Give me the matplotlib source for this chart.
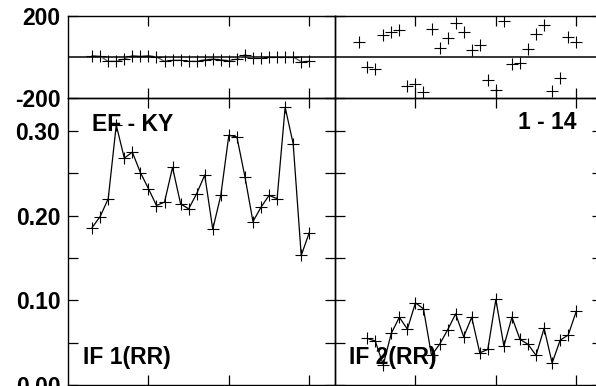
import matplotlib
matplotlib.use("Agg")
import matplotlib.pyplot as plt
from matplotlib.ticker import FixedLocator, NullFormatter

plt.rcParams['font.family'] = ['Liberation Sans', 'DejaVu Sans']
plt.rcParams['font.weight'] = 'bold'

# ---- data ----
x_left = list(range(3, 31))
phase_left = [7, 3, -21, -21, -10, 7, 3, 7, 0, -21, -16, -16, -21, -21, -13, -10,
              -13, -18, -10, 11, -5, -5, -2, 0, 0, 0, -23, -21]
amp_left = [0.186, 0.199, 0.220, 0.307, 0.268, 0.275, 0.251, 0.232, 0.212, 0.216,
            0.257, 0.214, 0.208, 0.226, 0.248, 0.184, 0.224, 0.295, 0.293, 0.246,
            0.193, 0.210, 0.224, 0.220, 0.328, 0.285, 0.153, 0.180]

x_right_phase = list(range(3, 31))
phase_right = [75, -48, -57, 107, 123, 133, -143, -130, -172, 136, 46, 95, 166, 120,
               34, 57, -110, -159, 177, -36, -28, 38, 112, 156, -167, -102, 100, 75]
x_right_amp = list(range(4, 31))
amp_right = [0.055, 0.052, 0.024, 0.061, 0.080, 0.066, 0.097, 0.090, 0.035, 0.048,
             0.065, 0.084, 0.057, 0.080, 0.038, 0.042, 0.101, 0.046, 0.080, 0.054,
             0.048, 0.035, 0.067, 0.026, 0.053, 0.059, 0.087]

phase_ticks = [-200, 200]
phase_ticklabels = ["-200", "200"]
amp_ticks = [0.0, 0.1, 0.2, 0.3]
amp_ticklabels = ["0.00", "0.10", "0.20", "0.30"]
amp_minor = [0.05, 0.15, 0.25]
x_ticks = [10, 20, 30]

label_baseline = "EF - KY"
label_range = "1 - 14"
label_if1 = "IF 1(RR)"
label_if2 = "IF 2(RR)"

# ---- layout ----
W, H = 596, 386
fig = plt.figure(figsize=(W / 100, H / 100), dpi=100)

def fx(px):
    return px / W

def fy(py):
    return 1 - py / H

x0l, x0r, pw = 68, 335, 267
top_t, top_b = 16, 98
bot_b = 385

ax_tl = fig.add_axes([fx(x0l), fy(top_b), pw / W, (top_b - top_t) / H])
ax_tr = fig.add_axes([fx(x0r), fy(top_b), pw / W, (top_b - top_t) / H])
ax_bl = fig.add_axes([fx(x0l), fy(bot_b), pw / W, (bot_b - top_b) / H])
ax_br = fig.add_axes([fx(x0r), fy(bot_b), pw / W, (bot_b - top_b) / H])

FS = 16.5
mk = dict(marker='+', markersize=9, markeredgewidth=0.8, color='black')

for ax in (ax_tl, ax_tr, ax_bl, ax_br):
    ax.set_xlim(0, 33.2)
    ax.xaxis.set_major_locator(FixedLocator(x_ticks))
    ax.xaxis.set_major_formatter(NullFormatter())
    ax.tick_params(axis='both', which='both', direction='in', length=7, width=0.9,
                   top=True, bottom=True, left=True, right=True,
                   labelsize=FS, pad=5.5, color='black')
    for s in ax.spines.values():
        s.set_linewidth(1.0)
        s.set_color('black')
    ax.set_facecolor('none')

# top panels (phase)
for ax in (ax_tl, ax_tr):
    ax.set_ylim(-200, 200)
    ax.yaxis.set_major_locator(FixedLocator(phase_ticks))
    ax.axhline(0, color='black', lw=1.1, zorder=1)
ax_tl.set_yticklabels(phase_ticklabels, fontweight='bold')
ax_tr.yaxis.set_major_formatter(NullFormatter())

ax_tl.plot(x_left, phase_left, '-', color='#555555', lw=0.9, zorder=2)
ax_tl.plot(x_left, phase_left, linestyle='none', zorder=3, **mk)
ax_tr.plot(x_right_phase, phase_right, linestyle='none', zorder=3, **mk)

# bottom panels (amplitude)
for ax in (ax_bl, ax_br):
    ax.set_ylim(0, 0.339)
    ax.yaxis.set_major_locator(FixedLocator(amp_ticks))
    ax.yaxis.set_minor_locator(FixedLocator(amp_minor))
ax_bl.set_yticklabels(amp_ticklabels, fontweight='bold')
ax_br.yaxis.set_major_formatter(NullFormatter())

ax_bl.plot(x_left, amp_left, '-', color='black', lw=0.9, marker='+',
           markersize=9, markeredgewidth=0.8)
ax_br.plot(x_right_amp, amp_right, '-', color='black', lw=0.9, marker='+',
           markersize=9, markeredgewidth=0.8)

def axpos(ax, px, py, x0):
    # convert pixel coords to axes fraction for bottom panels
    return (px - x0) / pw, (bot_b - py) / (bot_b - top_b)

ax_bl.text(*axpos(ax_bl, 92, 131, x0l), label_baseline, fontsize=FS, fontweight='bold',
           ha='left', va='baseline', transform=ax_bl.transAxes, zorder=5)
ax_br.text(*axpos(ax_br, 518, 129, x0r), label_range, fontsize=FS, fontweight='bold',
           ha='left', va='baseline', transform=ax_br.transAxes, zorder=5)
ax_bl.text(*axpos(ax_bl, 83, 364, x0l), label_if1, fontsize=FS, fontweight='bold',
           ha='left', va='baseline', transform=ax_bl.transAxes, zorder=5)
ax_br.text(*axpos(ax_br, 349, 364, x0r), label_if2, fontsize=FS, fontweight='bold',
           ha='left', va='baseline', transform=ax_br.transAxes, zorder=5)

fig.savefig("out.png", dpi=100)
